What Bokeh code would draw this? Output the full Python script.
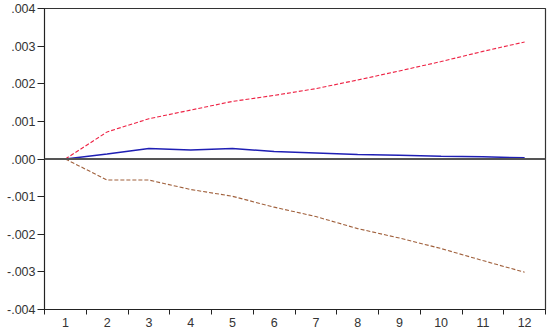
from bokeh.plotting import figure
from bokeh.models import FixedTicker, Span, ColumnDataSource
from bokeh.embed import file_html
from bokeh.resources import INLINE

periods = [1, 2, 3, 4, 5, 6, 7, 8, 9, 10, 11, 12]
response = [0.0, 0.00013, 0.00028, 0.00024, 0.00028, 0.00020, 0.00016, 0.00012,
            0.00010, 0.00007, 0.00006, 0.00003]
upper_band = [0.0, 0.00072, 0.00107, 0.00130, 0.00153, 0.00169, 0.00187, 0.00210,
              0.00234, 0.00259, 0.00286, 0.00311]
lower_band = [0.0, -0.00056, -0.00056, -0.00081, -0.00099, -0.00128, -0.00153, -0.00185,
              -0.00210, -0.00238, -0.00270, -0.00301]

y_ticks = [0.004, 0.003, 0.002, 0.001, 0.0, -0.001, -0.002, -0.003, -0.004]
y_tick_labels = [".004", ".003", ".002", ".001", ".000", "-.001", "-.002", "-.003", "-.004"]
x_tick_labels = [str(v) for v in periods]

src = ColumnDataSource(dict(x=periods, r=response, u=upper_band, l=lower_band))

p = figure(width=550, height=334, output_backend="svg", toolbar_location=None,
           x_range=(0.5, 12.5), y_range=(-0.004, 0.004),
           min_border_left=44, min_border_right=5, min_border_top=8, min_border_bottom=25)

p.xgrid.visible = False
p.ygrid.visible = False
p.outline_line_color = "#333333"
p.outline_line_width = 1.2

zero = Span(location=0, dimension="width", line_color="#555555", line_width=2)
p.add_layout(zero)

p.line("x", "u", source=src, line_color="#ee2244", line_width=1.1, line_dash="4 2")
p.line("x", "l", source=src, line_color="#a0603c", line_width=1.1, line_dash="4 2")
p.line("x", "r", source=src, line_color="#1f1fb4", line_width=1.5)

# y axis
p.yaxis.ticker = FixedTicker(ticks=y_ticks, minor_ticks=[])
p.yaxis.major_label_overrides = {t: s for t, s in zip(y_ticks, y_tick_labels)}
p.yaxis.major_tick_out = 7
p.yaxis.major_tick_in = 0
p.yaxis.major_label_standoff = 2
p.yaxis.axis_line_color = "#222222"
p.yaxis.major_tick_line_color = "#222222"

# x axis: labels at period centres, ticks at period boundaries
p.xaxis.ticker = FixedTicker(ticks=periods, minor_ticks=[v - 0.5 for v in periods] + [12.5])
p.xaxis.major_label_overrides = {v: s for v, s in zip(periods, x_tick_labels)}
p.xaxis.major_tick_line_alpha = 0
p.xaxis.major_tick_out = 5
p.xaxis.minor_tick_out = 5
p.xaxis.minor_tick_in = 0
p.xaxis.minor_tick_line_color = "#222222"
p.xaxis.major_label_standoff = 3
p.xaxis.axis_line_color = "#222222"

for ax in (p.xaxis, p.yaxis):
    ax.major_label_text_font = "Liberation Sans"
    ax.major_label_text_font_size = "12.5px"
    ax.major_label_text_color = "#333333"

open("out.html", "w").write(file_html(p, INLINE))
